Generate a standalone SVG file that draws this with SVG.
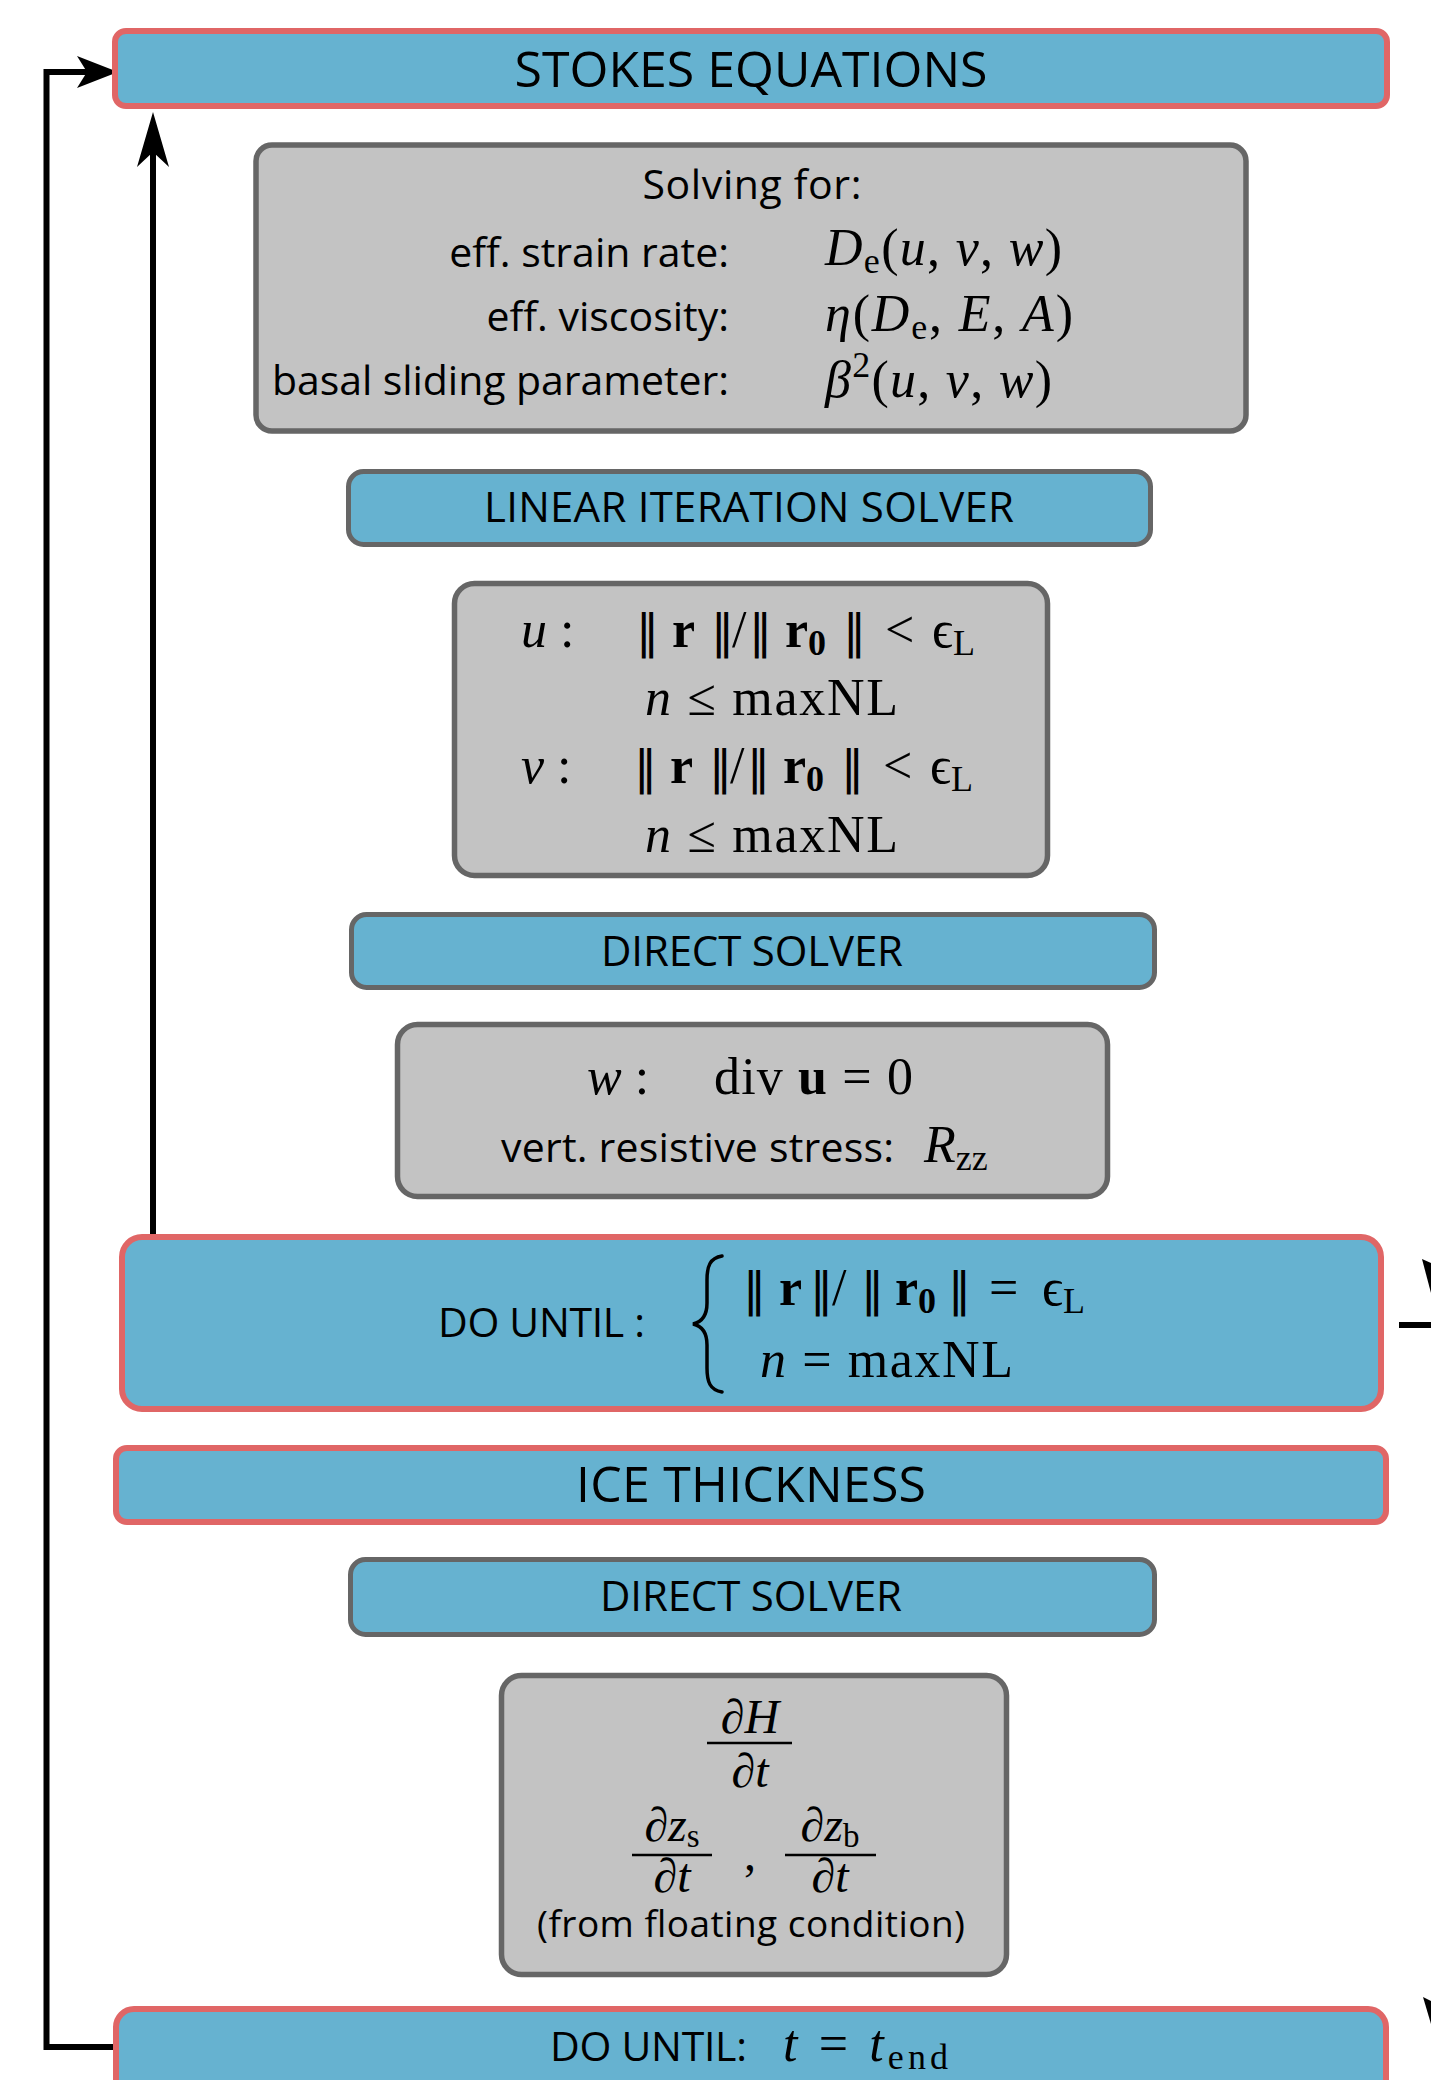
<svg xmlns="http://www.w3.org/2000/svg" width="1431" height="2080" viewBox="0 0 1431 2080">
<style>
.bg{fill:#ffffff}
.mainbox{fill:#66b2d0;stroke:#e06666;stroke-width:6}
.solver{fill:#66b2d0;stroke:#666666;stroke-width:5}
.gray{fill:#c3c3c3;stroke:#666666;stroke-width:5.5}
.sans{font-family:'Open Sans','Liberation Sans',sans-serif;fill:#000}
.math{font-family:'Liberation Serif','DejaVu Serif',serif;fill:#000}
.it{font-style:italic}
.bf{font-weight:bold}
.nrm{font-family:'DejaVu Sans',sans-serif;font-size:46px;font-weight:normal}
.line{fill:none;stroke:#000;stroke-width:6;stroke-linejoin:miter}
.head{fill:#000;stroke:none}
.bar{stroke:#000;stroke-width:2.5}
.brace{fill:none;stroke:#000;stroke-width:3.5;stroke-linecap:round}
</style>
<rect class="bg" x="0" y="0" width="1431" height="2080"/>

<g id="connectors">
  <path class="line" d="M 114 2047 H 46.5 V 72 H 90"/>
  <polygon class="head" points="118,72 77,56 87,72 77,88"/>
  <path class="line" d="M 153 1236 V 150"/>
  <polygon class="head" points="153,112 169,167 153,152 137,167"/>
  <path class="line" d="M 1399 1325 H 1431"/>
  <polygon class="head" points="1422,1259 1431,1263 1431,1293"/>
  <polygon class="head" points="1423,1997 1431,2001 1431,2024"/>
</g>

<g id="stokes">
  <rect class="mainbox" x="115" y="31" width="1272" height="75" rx="11"/>
  <text class="sans" x="751" y="87" font-size="50" text-anchor="middle" textLength="473" lengthAdjust="spacing">STOKES EQUATIONS</text>
</g>

<g id="solving-for">
  <rect class="gray" x="256" y="145" width="990" height="286" rx="16"/>
  <text class="sans" x="752" y="199" font-size="41" text-anchor="middle" textLength="219" lengthAdjust="spacing">Solving for:</text>
  <text class="sans" x="729" y="267" font-size="41" text-anchor="end">eff. strain rate:</text>
  <text class="sans" x="729" y="331" font-size="41" text-anchor="end">eff. viscosity:</text>
  <text class="sans" x="729" y="395" font-size="41" text-anchor="end" textLength="457" lengthAdjust="spacing">basal sliding parameter:</text>
  <text class="math" x="825" y="265" font-size="52" textLength="237" lengthAdjust="spacing"><tspan class="it">D</tspan><tspan font-size="36" dy="8">e</tspan><tspan dy="-8">(</tspan><tspan class="it">u</tspan>, <tspan class="it">v</tspan>, <tspan class="it">w</tspan>)</text>
  <text class="math" x="825" y="331" font-size="52" textLength="248" lengthAdjust="spacing"><tspan class="it">η</tspan>(<tspan class="it">D</tspan><tspan font-size="36" dy="8">e</tspan><tspan dy="-8">, </tspan><tspan class="it">E</tspan>, <tspan class="it">A</tspan>)</text>
  <text class="math" x="825" y="397" font-size="52" textLength="227" lengthAdjust="spacing"><tspan class="it">β</tspan><tspan font-size="36" dy="-20">2</tspan><tspan dy="20">(</tspan><tspan class="it">u</tspan>, <tspan class="it">v</tspan>, <tspan class="it">w</tspan>)</text>
</g>

<g id="linear-solver">
  <rect class="solver" x="348.5" y="471.5" width="802" height="73" rx="15"/>
  <text class="sans" x="749" y="522" font-size="42" text-anchor="middle" textLength="530" lengthAdjust="spacing">LINEAR ITERATION SOLVER</text>
</g>

<g id="uv-criteria">
  <rect class="gray" x="454.5" y="583.5" width="593" height="292" rx="20"/>
  <text class="math" x="521" y="647" font-size="52"><tspan class="it">u</tspan> :</text>
  <text class="math" y="647" font-size="52"><tspan class="nrm" x="636">‖</tspan><tspan class="bf" x="659"> r</tspan><tspan class="nrm" x="711">‖</tspan><tspan x="732">/</tspan><tspan class="nrm" x="749">‖</tspan><tspan class="bf" x="772"> r</tspan><tspan class="bf" font-size="36" dy="8">0</tspan><tspan class="nrm" x="843" dy="-8">‖</tspan><tspan x="872"> &lt;</tspan><tspan x="919"> ϵ</tspan><tspan font-size="36" dy="8">L</tspan></text>
  <text class="math" x="645" y="715" font-size="52" textLength="253" lengthAdjust="spacing"><tspan class="it">n</tspan> ≤ maxNL</text>
  <text class="math" x="521" y="783" font-size="52"><tspan class="it">v</tspan> :</text>
  <text class="math" y="783" font-size="52"><tspan class="nrm" x="634">‖</tspan><tspan class="bf" x="657"> r</tspan><tspan class="nrm" x="709">‖</tspan><tspan x="730">/</tspan><tspan class="nrm" x="747">‖</tspan><tspan class="bf" x="770"> r</tspan><tspan class="bf" font-size="36" dy="8">0</tspan><tspan class="nrm" x="841" dy="-8">‖</tspan><tspan x="870"> &lt;</tspan><tspan x="917"> ϵ</tspan><tspan font-size="36" dy="8">L</tspan></text>
  <text class="math" x="645" y="852" font-size="52" textLength="253" lengthAdjust="spacing"><tspan class="it">n</tspan> ≤ maxNL</text>
</g>

<g id="direct-solver-1">
  <rect class="solver" x="351.5" y="914.5" width="803" height="73" rx="15"/>
  <text class="sans" x="752" y="966" font-size="42" text-anchor="middle" textLength="302" lengthAdjust="spacing">DIRECT SOLVER</text>
</g>

<g id="w-criteria">
  <rect class="gray" x="397.5" y="1024.5" width="710" height="172" rx="20"/>
  <text class="math" x="587" y="1094" font-size="52"><tspan class="it">w</tspan> :</text>
  <text class="math" x="714" y="1094" font-size="52" textLength="199" lengthAdjust="spacing">div <tspan class="bf">u</tspan> = 0</text>
  <text class="sans" x="501" y="1162" font-size="41" textLength="393" lengthAdjust="spacing">vert. resistive stress:</text>
  <text class="math" x="924" y="1162" font-size="52"><tspan class="it">R</tspan><tspan font-size="36" dy="8">zz</tspan></text>
</g>

<g id="do-until-inner">
  <rect class="mainbox" x="122" y="1237" width="1259" height="172" rx="20"/>
  <text class="sans" x="438" y="1337" font-size="41" textLength="207" lengthAdjust="spacing">DO UNTIL :</text>
  <path class="brace" d="M 722 1256 C 710 1258, 707 1266, 707 1280 V 1303 C 707 1316, 702 1322, 693 1324 C 702 1326, 707 1332, 707 1345 V 1368 C 707 1382, 710 1390, 722 1392"/>
  <text class="math" y="1305" font-size="52"><tspan class="nrm" x="743">‖</tspan><tspan class="bf" x="766"> r</tspan><tspan class="nrm" x="810">‖</tspan><tspan x="832">/</tspan><tspan class="nrm" x="861">‖</tspan><tspan class="bf" x="882"> r</tspan><tspan class="bf" font-size="36" dy="8">0</tspan><tspan class="nrm" x="948" dy="-8">‖</tspan><tspan x="976"> =</tspan><tspan x="1029"> ϵ</tspan><tspan font-size="36" dy="8">L</tspan></text>
  <text class="math" x="760" y="1377" font-size="52" textLength="253" lengthAdjust="spacing"><tspan class="it">n</tspan> = maxNL</text>
</g>

<g id="ice-thickness">
  <rect class="mainbox" x="116" y="1448" width="1270" height="74" rx="11"/>
  <text class="sans" x="751" y="1502" font-size="50" text-anchor="middle" textLength="350" lengthAdjust="spacing">ICE THICKNESS</text>
</g>

<g id="direct-solver-2">
  <rect class="solver" x="350.5" y="1559.5" width="804" height="75" rx="15"/>
  <text class="sans" x="751" y="1611" font-size="42" text-anchor="middle" textLength="302" lengthAdjust="spacing">DIRECT SOLVER</text>
</g>

<g id="thickness-eqs">
  <rect class="gray" x="501.5" y="1675.5" width="505" height="299" rx="20"/>
  <text class="math" x="750" y="1733" font-size="48" text-anchor="middle">∂<tspan class="it">H</tspan></text>
  <line class="bar" x1="707" y1="1743" x2="792" y2="1743"/>
  <text class="math" x="750" y="1787" font-size="48" text-anchor="middle">∂<tspan class="it">t</tspan></text>
  <text class="math" x="672" y="1841" font-size="48" text-anchor="middle">∂<tspan class="it">z</tspan><tspan font-size="33" dy="6">s</tspan></text>
  <line class="bar" x1="632" y1="1855" x2="712" y2="1855"/>
  <text class="math" x="672" y="1892" font-size="48" text-anchor="middle">∂<tspan class="it">t</tspan></text>
  <text class="math" x="744" y="1870" font-size="48">,</text>
  <text class="math" x="830" y="1841" font-size="48" text-anchor="middle">∂<tspan class="it">z</tspan><tspan font-size="33" dy="6">b</tspan></text>
  <line class="bar" x1="785" y1="1855" x2="876" y2="1855"/>
  <text class="math" x="830" y="1892" font-size="48" text-anchor="middle">∂<tspan class="it">t</tspan></text>
  <text class="sans" x="751" y="1937" font-size="37" text-anchor="middle" textLength="428" lengthAdjust="spacing">(from floating condition)</text>
</g>

<g id="do-until-outer">
  <rect class="mainbox" x="116" y="2009" width="1270" height="90" rx="18"/>
  <text class="sans" x="550" y="2061" font-size="41" textLength="197" lengthAdjust="spacing">DO UNTIL:</text>
  <text class="math" x="783" y="2061" font-size="52" textLength="165" lengthAdjust="spacing"><tspan class="it">t</tspan> = <tspan class="it">t</tspan><tspan font-size="36" dy="8">end</tspan></text>
</g>
</svg>
